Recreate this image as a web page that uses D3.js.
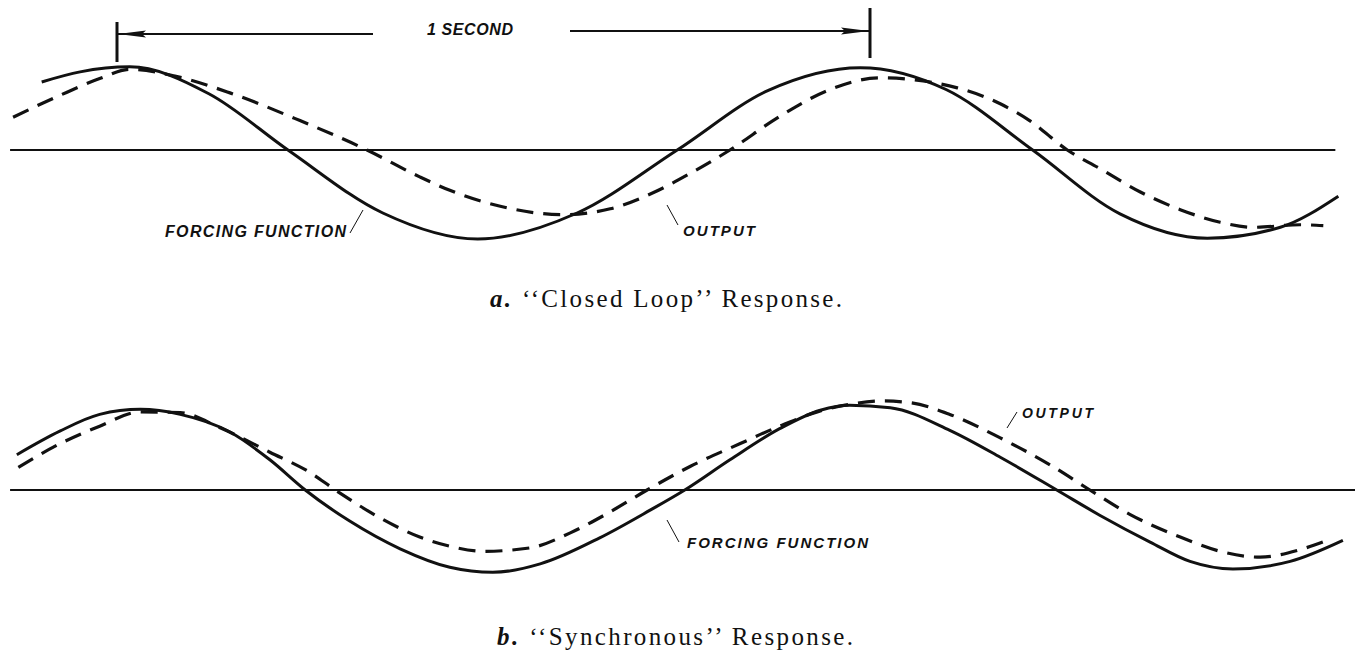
<!DOCTYPE html>
<html>
<head>
<meta charset="utf-8">
<script src="https://cdn.jsdelivr.net/npm/d3@7"></script>
<style>
  body { margin: 0; background: #fff; }
  svg { display: block; }
</style>
</head>
<body>
<div id="chart"></div>
<script>
// time in seconds (0 -> 1 is the "1 SECOND" span), value in peak amplitude units
const closedForcing = [
  [-0.100, 0.81], [-0.049, 0.93], [0.017, 0.99], [0.122, 0.67], [0.227, 0],
  [0.353, -0.75], [0.479, -1.06], [0.611, -0.75], [0.744, 0], [0.865, 0.71],
  [0.987, 0.98], [1.101, 0.72], [1.216, 0], [1.332, -0.76], [1.448, -1.05],
  [1.545, -0.92], [1.622, -0.55]
]
const closedOutput = [
  [-0.138, 0.39], [-0.076, 0.65], [-0.023, 0.85], [0.017, 0.96], [0.077, 0.88],
  [0.150, 0.68], [0.243, 0.35], [0.332, 0], [0.402, -0.32], [0.442, -0.48],
  [0.509, -0.67], [0.592, -0.77], [0.655, -0.70], [0.714, -0.50], [0.761, -0.28],
  [0.814, 0], [0.880, 0.40], [0.947, 0.72], [1.013, 0.86], [1.116, 0.74],
  [1.173, 0.55], [1.212, 0.35], [1.262, 0], [1.305, -0.22], [1.359, -0.50],
  [1.412, -0.71], [1.465, -0.86], [1.509, -0.92], [1.571, -0.89], [1.602, -0.90]
]
const syncForcing = [
  [-0.133, 0.42], [-0.076, 0.70], [-0.023, 0.90], [0.031, 0.96], [0.084, 0.90],
  [0.150, 0.69], [0.203, 0.36], [0.250, 0], [0.309, -0.37], [0.376, -0.70],
  [0.442, -0.92], [0.499, -0.98], [0.562, -0.88], [0.641, -0.57], [0.708, -0.24],
  [0.754, 0], [0.814, 0.36], [0.880, 0.73], [0.934, 0.95], [0.973, 1.01],
  [1.027, 0.98], [1.106, 0.71], [1.173, 0.39], [1.248, 0], [1.305, -0.30],
  [1.372, -0.62], [1.425, -0.85], [1.482, -0.94], [1.558, -0.85], [1.628, -0.60]
]
const syncOutput = [
  [-0.131, 0.27], [-0.076, 0.55], [-0.023, 0.76], [0.031, 0.93], [0.084, 0.92],
  [0.137, 0.74], [0.203, 0.45], [0.256, 0.21], [0.290, 0], [0.349, -0.33],
  [0.402, -0.56], [0.442, -0.67], [0.486, -0.73], [0.548, -0.69], [0.602, -0.51],
  [0.655, -0.26], [0.704, 0], [0.761, 0.28], [0.827, 0.55], [0.880, 0.76],
  [0.930, 0.93], [0.973, 1.02], [1.017, 1.06], [1.053, 1.04], [1.106, 0.90],
  [1.173, 0.62], [1.239, 0.30], [1.292, 0], [1.345, -0.29], [1.412, -0.56],
  [1.465, -0.73], [1.518, -0.80], [1.571, -0.71], [1.604, -0.61]
]
const axisSpanA = [-0.142, 1.618]
const axisSpanB = [-0.142, 1.645]
const secondSpan = [0, 1]
const captions = ['‘‘Closed Loop’’ Response.', '‘‘Synchronous’’ Response.']
const captionLetters = ['a.', 'b.']

const width = 1355, height = 652
const svg = d3.select('#chart').append('svg')
  .attr('width', width)
  .attr('height', height)

const x = d3.scaleLinear().domain([0, 1]).range([117, 870])
const amp = 84

const line = d3.line()
  .x(d => x(d[0]))
  .curve(d3.curveMonotoneX)

svg.append('defs').append('marker')
  .attr('id', 'arrow')
  .attr('refX', 28)
  .attr('refY', 5)
  .attr('markerUnits', 'userSpaceOnUse')
  .attr('markerWidth', 30)
  .attr('markerHeight', 10)
  .attr('orient', 'auto')
  .append('path')
  .attr('d', 'M 0 1.5 L 28 5 L 0 8.5 L 4 5 Z')
  .style('fill', '#111')

const panels = [
  {center: 150, forcing: closedForcing, output: closedOutput, span: axisSpanA},
  {center: 490, forcing: syncForcing, output: syncOutput, span: axisSpanB}
]

panels.forEach(p => {
  const y = d3.scaleLinear().domain([-1, 1]).range([p.center + amp, p.center - amp])
  line.y(d => y(d[1]))
  const g = svg.append('g')
  g.append('line')
    .attr('x1', x(p.span[0])).attr('x2', x(p.span[1]))
    .attr('y1', y(0)).attr('y2', y(0))
    .attr('stroke', '#111').attr('stroke-width', 1.8)
  g.append('path')
    .datum(p.forcing)
    .attr('d', line)
    .attr('fill', 'none')
    .attr('stroke', '#111')
    .attr('stroke-width', 3)
  g.append('path')
    .datum(p.output)
    .attr('d', line)
    .attr('fill', 'none')
    .attr('stroke', '#111')
    .attr('stroke-width', 3.2)
    .attr('stroke-dasharray', '17,10')
})

// 1 second dimension
const dim = svg.append('g').attr('stroke', '#111')
dim.append('line')
  .attr('x1', x(secondSpan[0])).attr('x2', x(secondSpan[0]))
  .attr('y1', 22).attr('y2', 62).attr('stroke-width', 3)
dim.append('line')
  .attr('x1', x(secondSpan[1])).attr('x2', x(secondSpan[1]))
  .attr('y1', 8).attr('y2', 58).attr('stroke-width', 3)
dim.append('line')
  .attr('x1', 373).attr('x2', x(secondSpan[0]) + 1)
  .attr('y1', 34).attr('y2', 34).attr('stroke-width', 2)
  .attr('marker-end', 'url(#arrow)')
dim.append('line')
  .attr('x1', 570).attr('x2', x(secondSpan[1]) - 1)
  .attr('y1', 31).attr('y2', 31).attr('stroke-width', 2)
  .attr('marker-end', 'url(#arrow)')

const labelFont = g => g
  .attr('font-family', 'Liberation Sans, Arial, sans-serif')
  .attr('font-weight', 'bold')
  .attr('font-style', 'italic')
  .attr('fill', '#111')
  .attr('lengthAdjust', 'spacing')

svg.append('text').call(labelFont)
  .attr('x', 427).attr('y', 35).attr('font-size', 16)
  .attr('textLength', 86)
  .text('1 SECOND')

const labels = [
  {text: 'FORCING FUNCTION', x: 165, y: 237, w: 181, size: 16},
  {text: 'OUTPUT', x: 683, y: 236, w: 72, size: 15},
  {text: 'OUTPUT', x: 1022, y: 418, w: 71, size: 14},
  {text: 'FORCING FUNCTION', x: 687, y: 548, w: 181, size: 15}
]
labels.forEach(l => {
  svg.append('text').call(labelFont)
    .attr('x', l.x).attr('y', l.y).attr('font-size', l.size)
    .attr('textLength', l.w)
    .text(l.text)
})

// leader lines
const leaders = [
  [350, 233, 363, 210],
  [667, 205, 678, 225],
  [1007, 428, 1017, 412],
  [667, 520, 679, 542]
]
svg.append('g').selectAll('line')
  .data(leaders)
  .enter().append('line')
  .attr('x1', d => d[0]).attr('y1', d => d[1])
  .attr('x2', d => d[2]).attr('y2', d => d[3])
  .attr('stroke', '#111').attr('stroke-width', 1)

// captions
const capPos = [{x: 490, y: 307, w: 352}, {x: 497, y: 645, w: 356}]
captions.forEach((c, i) => {
  const t = svg.append('text')
    .attr('x', capPos[i].x).attr('y', capPos[i].y)
    .attr('font-family', 'Liberation Serif, Times New Roman, serif')
    .attr('font-size', 25)
    .attr('fill', '#111')
    .attr('textLength', capPos[i].w)
    .attr('lengthAdjust', 'spacing')
  t.append('tspan')
    .attr('font-style', 'italic').attr('font-weight', 'bold')
    .text(captionLetters[i])
  t.append('tspan').text(' ' + c)
})
</script>
</body>
</html>
